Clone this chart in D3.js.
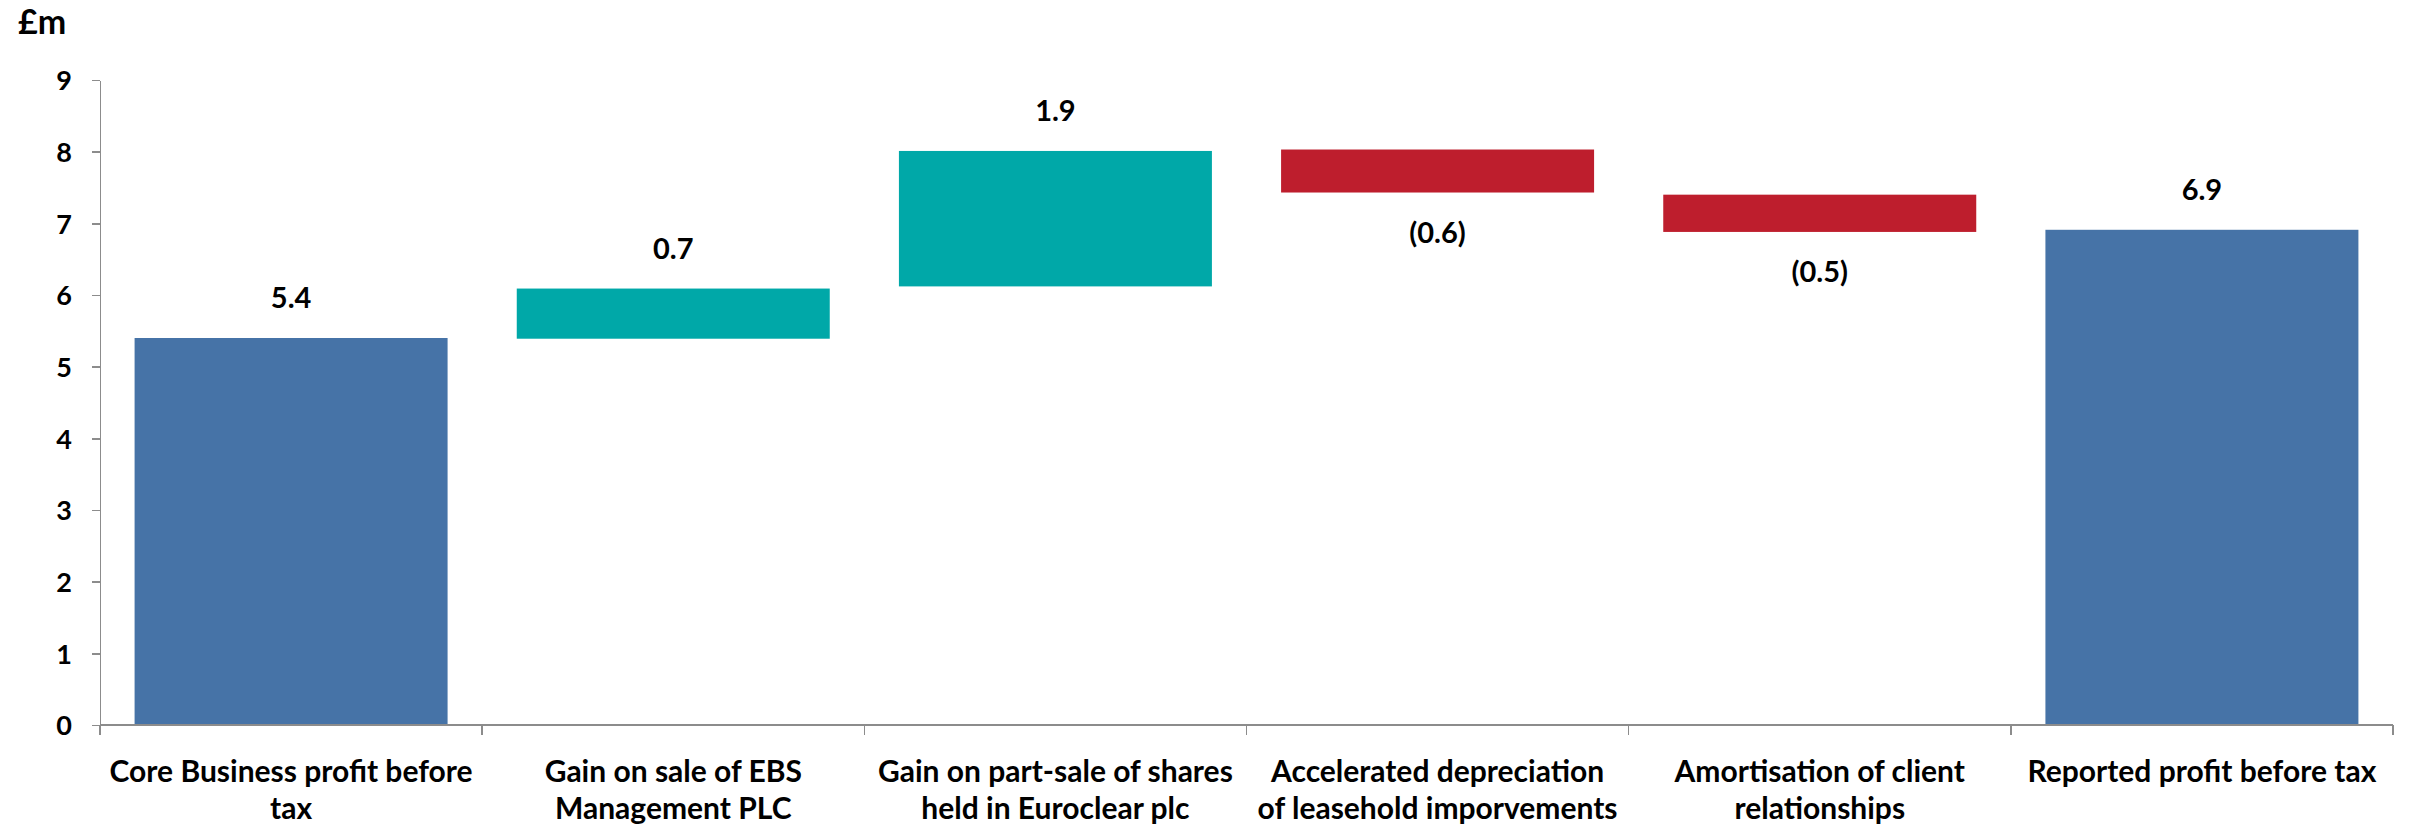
<!DOCTYPE html>
<html>
<head>
  <meta charset="utf-8">
  <title>Profit bridge</title>
  <style>
    body { margin: 0; background: #fff; }
    svg { display: block; }
    .axis-y path, .axis-y line,
    .axis-x line { stroke: #8c8c8c; stroke-width: 1.5; shape-rendering: crispEdges; }
    .axis-y text { font-family: Lato, "Open Sans", sans-serif; font-weight: 700; font-size: 27px; fill: #000; }
    .cat-label { font-family: Lato, "Open Sans", sans-serif; font-weight: 700; font-size: 30px; fill: #000; }
    .value-label { font-family: Lato, "Open Sans", sans-serif; font-weight: 700; font-size: 29px; fill: #000; }
    .unit { font-family: Lato, "Open Sans", sans-serif; font-weight: 700; font-size: 34px; fill: #000; }
  </style>
  <script src="https://d3js.org/d3.v7.min.js"></script>
</head>
<body>
  <div id="chart"></div>
  <script>
    // data (£m)
    const categories = [
      "Core Business profit before\ntax",
      "Gain on sale of EBS\nManagement PLC",
      "Gain on part-sale of shares\nheld in Euroclear plc",
      "Accelerated depreciation\nof leasehold imporvements",
      "Amortisation of client\nrelationships",
      "Reported profit before tax"
    ];
    const barStart = [0, 5.39, 6.12, 8.03, 7.40, 0];
    const barEnd = [5.40, 6.09, 8.01, 7.43, 6.88, 6.91];
    const valueLabels = ["5.4", "0.7", "1.9", "(0.6)", "(0.5)", "6.9"];
    const barKind = ["total", "up", "up", "down", "down", "total"];
    const yTicks = [0, 1, 2, 3, 4, 5, 6, 7, 8, 9];

    const colors = { total: "#4673a7", up: "#00a8a8", down: "#be1e2d" };

    const width = 2420;
    const height = 827;
    const plot = { left: 100, right: 2393, top: 80, bottom: 725 };

    const svg = d3.select("#chart")
      .append("svg")
      .attr("width", width)
      .attr("height", height);

    const x = d3.scaleBand()
      .domain(categories)
      .range([plot.left, plot.right])
      .paddingInner(0.181)
      .paddingOuter(0.0905);

    const y = d3.scaleLinear()
      .domain([0, 9])
      .range([plot.bottom, plot.top]);

    const bars = categories.map((c, i) => ({
      cat: c,
      start: barStart[i],
      end: barEnd[i],
      label: valueLabels[i],
      kind: barKind[i]
    }));

    // bars
    svg.append("g")
      .selectAll("rect")
      .data(bars)
      .enter()
      .append("rect")
      .attr("x", d => x(d.cat))
      .attr("width", x.bandwidth())
      .attr("y", d => y(Math.max(d.start, d.end)))
      .attr("height", d => Math.abs(y(d.start) - y(d.end)))
      .attr("fill", d => colors[d.kind]);

    // y axis
    svg.append("g")
      .attr("class", "axis-y")
      .attr("transform", `translate(${plot.left},0)`)
      .call(d3.axisLeft(y).tickValues(yTicks).tickSize(8).tickPadding(20).tickSizeOuter(0))
      .call(g => g.selectAll("text").attr("dy", "0.36em"));

    // x axis: baseline plus ticks on the category boundaries
    const xAxis = svg.append("g").attr("class", "axis-x");
    xAxis.append("line")
      .attr("x1", plot.left)
      .attr("x2", plot.right)
      .attr("y1", y(0))
      .attr("y2", y(0));
    xAxis.selectAll(".tick")
      .data(d3.range(categories.length + 1))
      .enter()
      .append("line")
      .attr("class", "tick")
      .attr("x1", i => plot.left + i * x.step())
      .attr("x2", i => plot.left + i * x.step())
      .attr("y1", y(0))
      .attr("y2", y(0) + 10);

    // category labels
    const catText = svg.append("g")
      .selectAll("text")
      .data(bars)
      .enter()
      .append("text")
      .attr("class", "cat-label")
      .attr("text-anchor", "middle")
      .attr("x", d => x(d.cat) + x.bandwidth() / 2)
      .attr("y", 782);
    catText.each(function(d) {
      const lines = d.cat.split("\n");
      d3.select(this).selectAll("tspan")
        .data(lines)
        .enter()
        .append("tspan")
        .attr("x", x(d.cat) + x.bandwidth() / 2)
        .attr("dy", (l, i) => i === 0 ? 0 : 37)
        .text(l => l);
    });

    // value labels
    svg.append("g")
      .selectAll("text")
      .data(bars)
      .enter()
      .append("text")
      .attr("class", "value-label")
      .attr("text-anchor", "middle")
      .attr("x", d => x(d.cat) + x.bandwidth() / 2)
      .attr("y", d => d.end >= d.start ? y(d.end) - 40 : y(d.end) + 40)
      .attr("dy", "0.36em")
      .text(d => d.label);

    // unit
    svg.append("text")
      .attr("class", "unit")
      .attr("x", 18)
      .attr("y", 34)
      .text("£m");
  </script>
</body>
</html>
